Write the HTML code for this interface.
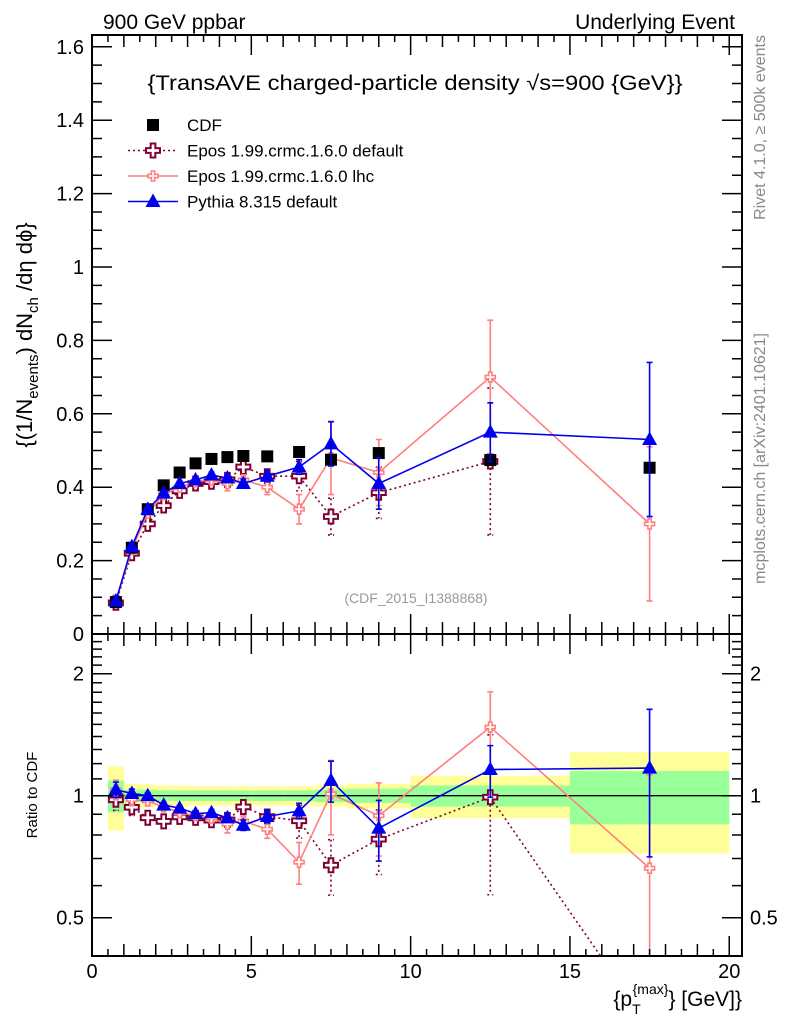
<!DOCTYPE html>
<html><head><meta charset="utf-8"><style>
html,body{margin:0;padding:0;background:#fff;width:786px;height:1024px;overflow:hidden}
svg{display:block;font-family:"Liberation Sans",sans-serif}
</style></head><body>
<svg id="c" width="786" height="1024" viewBox="0 0 786 1024" xmlns="http://www.w3.org/2000/svg">
<defs>
<clipPath id="cm"><rect x="92" y="35" width="650" height="599"/></clipPath>
<clipPath id="cr"><rect x="92" y="634" width="650" height="322"/></clipPath>
</defs>
<text x="103" y="29" font-size="21">900 GeV ppbar</text>
<text x="735" y="29" font-size="21" text-anchor="end">Underlying Event</text>
<text x="415" y="90" font-size="21" text-anchor="middle" textLength="535" lengthAdjust="spacingAndGlyphs">{TransAVE charged-particle density √s=900 {GeV}}</text>
<g id="legend"></g>
<text transform="translate(32,335) rotate(-90)" font-size="22" text-anchor="middle">{(1/N<tspan font-size="15" dy="6">events</tspan><tspan dy="-6">) dN</tspan><tspan font-size="15" dy="6">ch</tspan><tspan dy="-6"> /dη  dϕ}</tspan></text>
<text transform="translate(37,795) rotate(-90)" font-size="15" text-anchor="middle">Ratio to CDF</text>
<text transform="translate(765,35) rotate(-90)" font-size="16" fill="#888" text-anchor="end">Rivet 4.1.0, ≥ 500k events</text>
<text transform="translate(765,333) rotate(-90)" font-size="16" fill="#888" text-anchor="end">mcplots.cern.ch [arXiv:2401.10621]</text>
<text x="416" y="603" font-size="14" fill="#999" text-anchor="middle">(CDF_2015_I1388868)</text>
<text x="742" y="1006" font-size="21" text-anchor="end">{p<tspan font-size="14" dy="8">T</tspan><tspan font-size="14" dx="-8" dy="-20">{max}</tspan><tspan dy="12">} [GeV]}</tspan></text>
<g id="ratioBands" clip-path="url(#cr)"></g>
<g id="mainMarks" clip-path="url(#cm)"></g>
<g id="ratioMarks" clip-path="url(#cr)"></g>
<g id="axes"></g>
</svg>
<script>
const xCenters=[0.75,1.25,1.75,2.25,2.75,3.25,3.75,4.25,4.75,5.5,6.5,7.5,9,12.5,17.5];
const binLo=[0.5,1,1.5,2,2.5,3,3.5,4,4.5,5,6,7,8,10,15];
const binHi=[1,1.5,2,2.5,3,3.5,4,4.5,5,6,7,8,10,15,20];
const cdfVals=[0.087,0.235,0.34,0.405,0.44,0.465,0.477,0.482,0.485,0.484,0.496,0.475,0.493,0.474,0.453];
const cdfYellow=[0.18,0.07,0.065,0.06,0.06,0.055,0.055,0.055,0.055,0.055,0.055,0.06,0.07,0.12,0.28];
const cdfGreen=[0.09,0.035,0.035,0.03,0.03,0.03,0.03,0.03,0.03,0.03,0.03,0.035,0.04,0.06,0.15];
const eposDefVals=[0.085,0.22,0.30,0.35,0.39,0.41,0.415,0.42,0.455,0.43,0.43,0.32,0.385,0.47,0.122];
const eposDefErr=[0.005,0.01,0.01,0.01,0.01,0.01,0.01,0.01,0.015,0.01,0.04,0.05,0.07,0.2,0];
const eposLhcVals=[0.09,0.23,0.33,0.38,0.40,0.415,0.42,0.41,0.42,0.40,0.34,0.48,0.44,0.70,0.30];
const eposLhcErr=[0.005,0.008,0.008,0.008,0.008,0.008,0.01,0.02,0.012,0.02,0.04,0.1,0.09,0.155,0.21];
const pyVals=[0.09,0.238,0.34,0.384,0.41,0.42,0.433,0.425,0.41,0.43,0.455,0.518,0.41,0.55,0.53];
const pyErr=[0.004,0.006,0.006,0.006,0.006,0.006,0.008,0.01,0.012,0.015,0.02,0.06,0.07,0.08,0.21];
const yTicks=[0,0.2,0.4,0.6,0.8,1,1.2,1.4,1.6];
const rTicks=[0.5,1,2];
const xTicks=[0,5,10,15,20];

const NS="http://www.w3.org/2000/svg";
const X0=92,X1=742,XMAX=20.4;
const sx=v=>X0+v*(X1-X0)/XMAX;
const sy=v=>634-v*367;
const sr=v=>795.7-Math.log2(v)*122;
function mk(tag,at,par){const e=document.createElementNS(NS,tag);for(const k in at)e.setAttribute(k,at[k]);par.appendChild(e);return e;}
const axes=document.getElementById('axes');
const mm=document.getElementById('mainMarks');
const rm=document.getElementById('ratioMarks');
const rb=document.getElementById('ratioBands');

for(let i=0;i<binLo.length;i++){
  let e=mk('rect',{x:sx(binLo[i]),width:sx(binHi[i])-sx(binLo[i]),y:sr(1+cdfYellow[i]),height:sr(1-cdfYellow[i])-sr(1+cdfYellow[i]),fill:'#ffff99'},rb);
  
  
  e=mk('rect',{x:sx(binLo[i]),width:sx(binHi[i])-sx(binLo[i]),y:sr(1+cdfGreen[i]),height:sr(1-cdfGreen[i])-sr(1+cdfGreen[i]),fill:'#99ff99'},rb);
  
  
}
let l1=mk('line',{x1:X0,x2:X1,y1:sr(1),y2:sr(1),stroke:'#000','stroke-width':1.3},rb);



function crossPath(x,y,s){const a=s/2,b=s/6;return `M${x-b},${y-a}H${x+b}V${y-b}H${x+a}V${y+b}H${x+b}V${y+a}H${x-b}V${y+b}H${x-a}V${y-b}H${x-b}Z`;}
function marker(type,x,y,g,name){
  let e;
  if(type==='sq')e=mk('rect',{x:x-6,y:y-6,width:12,height:12,fill:'#000'},g);
  else if(type==='tri')e=mk('path',{d:`M${x},${y-8}L${x+7.5},${y+5.5}L${x-7.5},${y+5.5}Z`,fill:'#0000ee'},g);
  else if(type==='crossBig')e=mk('path',{d:crossPath(x,y,14),fill:'#fff',stroke:'#7f0033','stroke-width':2},g);
  else e=mk('path',{d:crossPath(x,y,10),fill:'#fff',stroke:'#ff7f7f','stroke-width':1.6},g);
  
  
}
function series(vals,errs,color,dash,width,type,name,g,scale,ratio,skipLast){
  const n=skipLast?vals.length-1:vals.length;
  const val=i=>ratio?vals[i]/cdfVals[i]:vals[i];
  let pts=[];for(let i=0;i<(ratio?vals.length:n);i++)pts.push(sx(xCenters[i])+','+scale(val(i)));
  let pl=mk('polyline',{points:pts.join(' '),fill:'none',stroke:color,'stroke-width':width,'stroke-dasharray':dash||'none'},g);
  
  
  for(let i=0;i<n;i++){
    const x=sx(xCenters[i]);const e=ratio?errs[i]/cdfVals[i]:errs[i];
    if(e>0){
      const y1=scale(val(i)+e),y2=scale(Math.max(val(i)-e,0.01));
      let eb=mk('path',{d:`M${x},${y1}V${y2}M${x-3},${y1}H${x+3}M${x-3},${y2}H${x+3}`,stroke:color,'stroke-width':width,'stroke-dasharray':dash||'none',fill:'none'},g);
      
      
    }
  }
  for(let i=0;i<n;i++)marker(type,sx(xCenters[i]),scale(val(i)),g,name+'-point');
}
series(eposDefVals,eposDefErr,'#7f0033','2,3',1.6,'crossBig','epos-default',mm,sy,false,true);
series(eposLhcVals,eposLhcErr,'#ff7f7f',null,1.6,'crossSm','epos-lhc',mm,sy,false,false);
for(let i=0;i<cdfVals.length;i++)marker('sq',sx(xCenters[i]),sy(cdfVals[i]),mm,'cdf-point');
series(pyVals,pyErr,'#0000ee',null,1.6,'tri','pythia',mm,sy,false,false);
series(eposDefVals,eposDefErr,'#7f0033','2,3',1.6,'crossBig','epos-default-ratio',rm,sr,true,true);
series(eposLhcVals,eposLhcErr,'#ff7f7f',null,1.6,'crossSm','epos-lhc-ratio',rm,sr,true,false);
series(pyVals,pyErr,'#0000ee',null,1.6,'tri','pythia-ratio',rm,sr,true,false);

for(const [y0,y1,n] of [[35,634,'main-frame'],[634,956,'ratio-frame']]){
  let f=mk('rect',{x:X0,y:y0,width:X1-X0,height:y1-y0,fill:'none',stroke:'#000','stroke-width':2},axes);
  
  
}
let tp='';
for(let v=0;v<=20.001;v+=0.5){
  const x=sx(v);const maj=Math.abs(v%5)<1e-6;const whole=Math.abs(v%1)<1e-6;
  const L=maj?20:(whole?12:7);
  tp+=`M${x},634V${634-L}M${x},35V${35+L}M${x},956V${956-L}M${x},634V${634+L}`;
}
for(let v=0;v<=1.6001;v+=0.05){
  const y=sy(v);const r=Math.round(v*100);const L=(r%20===0)?20:10;
  tp+=`M${X0},${y}H${X0+L}M${X1},${y}H${X1-L}`;
}
for(const v of [0.4,0.5,0.6,0.7,0.8,0.9,1,1.1,1.2,1.3,1.4,1.5,1.6,1.7,1.8,1.9,2,2.1,2.2,2.3,2.4,2.5]){
  const y=sr(v);if(y<636||y>954)continue;const L=rTicks.includes(v)?20:10;
  tp+=`M${X0},${y}H${X0+L}M${X1},${y}H${X1-L}`;
}
let tk=mk('path',{d:tp,stroke:'#000','stroke-width':1.5,fill:'none'},axes);


for(const v of yTicks){
  let t=mk('text',{x:X0-8,y:sy(v)+7,'font-size':20,'text-anchor':'end'},axes);t.textContent=String(v);
  
  
}
for(const v of rTicks){
  for(const [x,a] of [[X0-8,'end'],[X1+8,'start']]){
    let t=mk('text',{x:x,y:sr(v)+7,'font-size':20,'text-anchor':a},axes);t.textContent=String(v);
    
    
  }
}
for(const v of xTicks){
  let t=mk('text',{x:sx(v),y:978,'font-size':20,'text-anchor':'middle'},axes);t.textContent=String(v);
  
  
}
const lg=document.getElementById('legend');
const leg=[['CDF','sq'],['Epos 1.99.crmc.1.6.0 default','crossBig'],['Epos 1.99.crmc.1.6.0 lhc','crossSm'],['Pythia 8.315 default','tri']];
const lc={sq:null,crossBig:['#7f0033','2,3'],crossSm:['#ff7f7f',null],tri:['#0000ee',null]};
leg.forEach((d,i)=>{
  const y=125+i*25.5;
  if(lc[d[1]]){let l=mk('line',{x1:128,x2:178,y1:y,y2:y,stroke:lc[d[1]][0],'stroke-width':1.6,'stroke-dasharray':lc[d[1]][1]||'none'},lg);
    
    }
  marker(d[1],153,y,lg,'legend-marker');
  let t=mk('text',{x:187,y:y+6,'font-size':17},lg);t.textContent=d[0];
  
  
});
</script>
</body></html>
